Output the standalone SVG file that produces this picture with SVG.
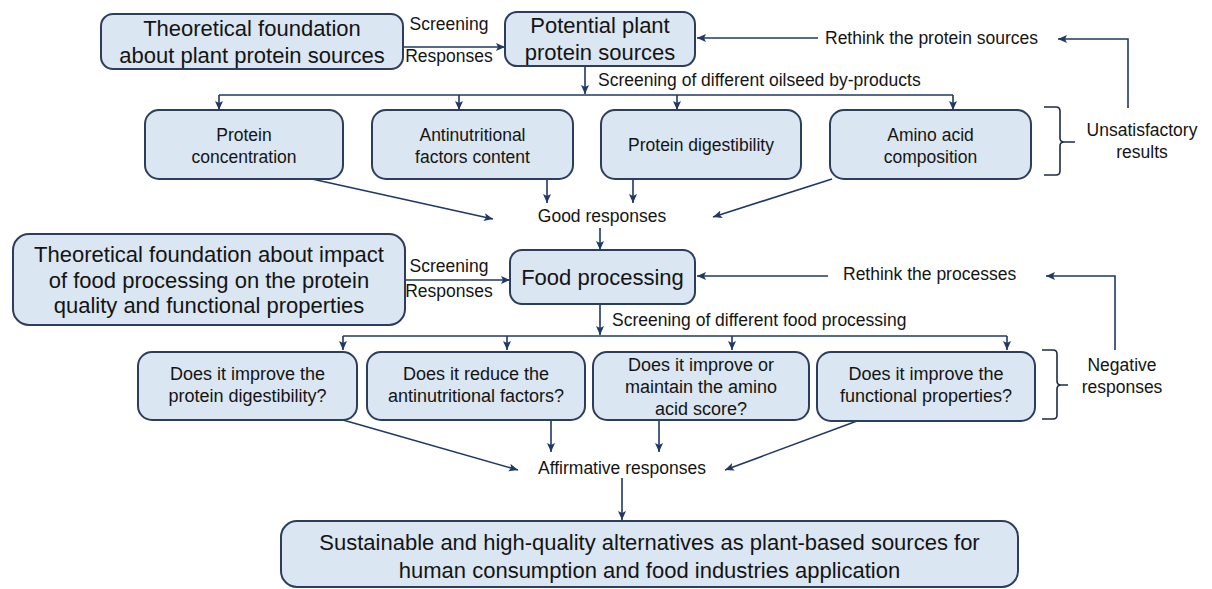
<svg xmlns="http://www.w3.org/2000/svg" width="1212" height="589" viewBox="0 0 1212 589">
<defs>
<marker id="ah" markerUnits="userSpaceOnUse" markerWidth="10" markerHeight="9" refX="9" refY="4.5" orient="auto">
<path d="M0,0.5 L9,4.5 L0,8.5 L2,4.5 z" fill="#1f3864"/>
</marker>
<style>
.box{fill:#dae6f2;stroke:#2d3e5c;stroke-width:2}
.t{font-family:"Liberation Sans",Arial,sans-serif;fill:#141414;text-anchor:middle}
.big{font-size:22px}
.sm{font-size:17.5px}
.md{font-size:18px}
.l{text-anchor:start}
.c{fill:none;stroke:#1f3864;stroke-width:1.6}
.a{marker-end:url(#ah)}
.br{fill:none;stroke:#1f2a44;stroke-width:1.6}
</style>
</defs>
<rect width="1212" height="589" fill="#ffffff"/>

<g id="connectors">
<path class="c a" d="M403,47 H505"/>
<path class="c a" d="M818,38 H697"/>
<path class="c a" d="M1128,108 V39 H1058"/>
<path class="c a" d="M585,66 V94"/>
<path class="c" d="M219,95 H953"/>
<path class="c a" d="M219,95 V110"/>
<path class="c a" d="M459,95 V110"/>
<path class="c a" d="M677,95 V110"/>
<path class="c a" d="M953,95 V110"/>
<path class="c a" d="M312,179 L493,219"/>
<path class="c a" d="M547,179 V203"/>
<path class="c a" d="M633,179 V203"/>
<path class="c a" d="M832,179 L713,217"/>
<path class="c a" d="M600,228 V250"/>
<path class="c a" d="M405,280 H510"/>
<path class="c a" d="M828,276 H697"/>
<path class="c a" d="M1115,350 V276 H1046"/>
<path class="c a" d="M600,304 V335"/>
<path class="c" d="M343,336 H1007"/>
<path class="c a" d="M343,336 V350"/>
<path class="c a" d="M507,336 V350"/>
<path class="c a" d="M732,336 V350"/>
<path class="c a" d="M1007,336 V350"/>
<path class="c a" d="M343,420 L518,470"/>
<path class="c a" d="M551,420 V452"/>
<path class="c a" d="M659,420 V452"/>
<path class="c a" d="M857,421 L725,470"/>
<path class="c a" d="M622,478 V520"/>
<path class="br" d="M1044,107 H1056 Q1060,107 1060,111 V138 Q1060,142 1064,142 H1075 M1064,142 Q1060,142 1060,146 V171 Q1060,175 1056,175 H1044"/>
<path class="br" d="M1042,350 H1053 Q1057,350 1057,354 V381 Q1057,385 1061,385 H1068 M1061,385 Q1057,385 1057,389 V415 Q1057,419 1053,419 H1042"/>
</g>

<g id="labels">
<text class="t sm" x="449" y="30">Screening</text>
<text class="t sm" x="449" y="62">Responses</text>
<text class="t sm l" x="825" y="44">Rethink the protein sources</text>
<text class="t sm l" x="598" y="86">Screening of different oilseed by-products</text>
<text class="t sm" x="1142" y="136">Unsatisfactory</text>
<text class="t sm" x="1142" y="158">results</text>
<text class="t sm" x="602" y="222">Good responses</text>
<text class="t sm" x="449" y="272">Screening</text>
<text class="t sm" x="449" y="297">Responses</text>
<text class="t sm l" x="843" y="280">Rethink the processes</text>
<text class="t sm l" x="612" y="326">Screening of different food processing</text>
<text class="t sm" x="1122" y="371">Negative</text>
<text class="t sm" x="1122" y="393">responses</text>
<text class="t sm" x="622" y="474">Affirmative responses</text>
</g>

<g id="theory1">
<rect class="box" x="101" y="14" width="302" height="55" rx="12"/>
<text class="t big" x="252" y="36">Theoretical foundation</text>
<text class="t big" x="252" y="63">about plant protein sources</text>
</g>
<g id="potential">
<rect class="box" x="505" y="12" width="190" height="54" rx="12"/>
<text class="t big" x="600" y="33">Potential plant</text>
<text class="t big" x="600" y="60">protein sources</text>
</g>

<g id="protein-concentration">
<rect class="box" x="145" y="110" width="198" height="69" rx="14"/>
<text class="t sm" x="244" y="141">Protein</text>
<text class="t sm" x="244" y="163">concentration</text>
</g>
<g id="antinutritional">
<rect class="box" x="372" y="110" width="201" height="69" rx="14"/>
<text class="t sm" x="472.5" y="141">Antinutritional</text>
<text class="t sm" x="472.5" y="163">factors content</text>
</g>
<g id="digestibility">
<rect class="box" x="601" y="110" width="200" height="69" rx="14"/>
<text class="t sm" x="701" y="151">Protein digestibility</text>
</g>
<g id="amino">
<rect class="box" x="830" y="110" width="201" height="69" rx="14"/>
<text class="t sm" x="930.5" y="141">Amino acid</text>
<text class="t sm" x="930.5" y="163">composition</text>
</g>

<g id="theory2">
<rect class="box" x="13" y="234" width="392" height="91" rx="16"/>
<text class="t big" x="209" y="262">Theoretical foundation about impact</text>
<text class="t big" x="209" y="288">of food processing on the protein</text>
<text class="t big" x="209" y="313">quality and functional properties</text>
</g>
<g id="food-processing">
<rect class="box" x="510" y="250" width="185" height="54" rx="12"/>
<text class="t big" x="602.5" y="285">Food processing</text>
</g>

<g id="q-digestibility">
<rect class="box" x="138" y="352" width="219" height="68" rx="14"/>
<text class="t md" x="247.5" y="380">Does it improve the</text>
<text class="t md" x="247.5" y="402">protein digestibility?</text>
</g>
<g id="q-antinutritional">
<rect class="box" x="367" y="352" width="218" height="68" rx="14"/>
<text class="t md" x="476" y="380">Does it reduce the</text>
<text class="t md" x="476" y="402">antinutritional factors?</text>
</g>
<g id="q-amino">
<rect class="box" x="593" y="352" width="216" height="68" rx="14"/>
<text class="t md" x="701" y="371">Does it improve or</text>
<text class="t md" x="701" y="393">maintain the amino</text>
<text class="t md" x="701" y="415">acid score?</text>
</g>
<g id="q-functional">
<rect class="box" x="817" y="352" width="218" height="69" rx="14"/>
<text class="t md" x="926" y="380">Does it improve the</text>
<text class="t md" x="926" y="402">functional properties?</text>
</g>

<g id="result">
<rect class="box" x="281" y="521" width="737" height="66" rx="16"/>
<text class="t big" x="649.5" y="550">Sustainable and high-quality alternatives as plant-based sources for</text>
<text class="t big" x="649.5" y="578">human consumption and food industries application</text>
</g>
</svg>
